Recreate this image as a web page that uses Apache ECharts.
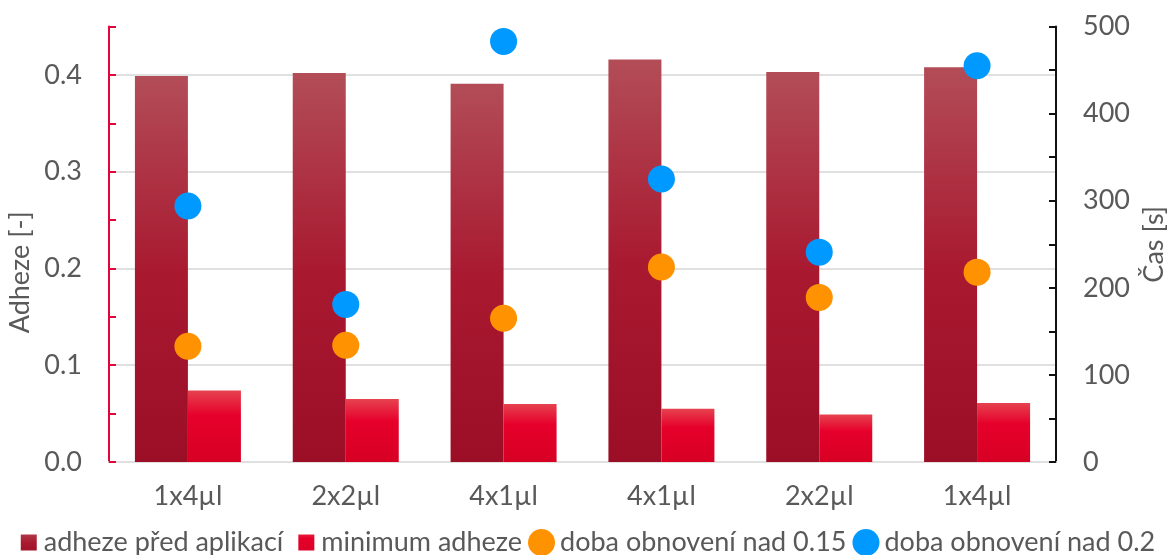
<!DOCTYPE html>
<html>
<head>
<meta charset="utf-8">
<script src="https://cdn.jsdelivr.net/npm/echarts@6/dist/echarts.min.js"></script>
<style>
html,body{margin:0;padding:0;background:#fff;}
#chart{width:1167px;height:555px;}
</style>
</head>
<body>
<div id="chart"></div>
<script>
const categories = ['1x4µl', '2x2µl', '4x1µl', '4x1µl', '2x2µl', '1x4µl'];
const adhezePred = [0.399, 0.402, 0.391, 0.416, 0.403, 0.408];
const minAdheze = [0.074, 0.065, 0.060, 0.055, 0.049, 0.061];
const dobaNad015 = [133, 134, 165, 224, 189, 218];
const dobaNad02 = [294, 181, 483, 325, 241, 455];
const seriesNames = ['adheze před aplikací', 'minimum adheze', 'doba obnovení nad 0.15', 'doba obnovení nad 0.2'];

const FONT = 'Lato';
const TXT = '#595959';
const FS = 27;

const chart = echarts.init(document.getElementById('chart'), null, {renderer: 'canvas'});

const grad1 = new echarts.graphic.LinearGradient(0, 0, 0, 1, [
  {offset: 0, color: '#b24d57'},
  {offset: 0.5, color: '#a91a31'},
  {offset: 1, color: '#9b0e25'}
]);
const grad2 = new echarts.graphic.LinearGradient(0, 0, 0, 1, [
  {offset: 0, color: '#e6424f'},
  {offset: 0.35, color: '#e6002b'},
  {offset: 1, color: '#d70024'}
]);
const squareIcon = 'path://M0,0M27,27M9,5.5h16v16h-16z';

const option = {
  animation: false,
  textStyle: {fontFamily: FONT},
  grid: {left: 109, right: 111, top: 26.6, bottom: 93, containLabel: false, outerBoundsMode: 'none'},
  legend: {
    left: 'center',
    top: 524,
    itemWidth: 27,
    itemHeight: 27,
    itemGap: 6,
    textStyle: {fontFamily: FONT, fontSize: FS, color: TXT},
    data: [
      {name: seriesNames[0], icon: squareIcon},
      {name: seriesNames[1], icon: squareIcon},
      {name: seriesNames[2], icon: 'circle'},
      {name: seriesNames[3], icon: 'circle'}
    ]
  },
  xAxis: {
    type: 'category',
    data: categories,
    axisLine: {show: true, lineStyle: {color: '#e0e0e0', width: 2}},
    axisTick: {show: false},
    axisLabel: {fontFamily: FONT, fontSize: FS, color: TXT, margin: 21, interval: 0}
  },
  yAxis: [
    {
      type: 'value',
      position: 'left',
      min: 0, max: 0.45, interval: 0.05,
      name: 'Adheze [-]',
      nameLocation: 'middle',
      nameRotate: 90,
      nameGap: 65,
      nameTextStyle: {fontFamily: FONT, fontSize: FS, color: TXT, padding: [0, 56, 0, 0]},
      axisLine: {show: true, lineStyle: {color: '#e2053b', width: 2}},
      axisTick: {show: true, inside: true, length: 7, lineStyle: {color: '#e2053b', width: 2}},
      axisLabel: {
        fontFamily: FONT, fontSize: FS, color: TXT, margin: 27,
        formatter: function (v) { return Math.round(v * 100) % 10 === 0 ? v.toFixed(1) : ''; }
      },
      splitLine: {show: false}
    },
    {
      type: 'value',
      position: 'right',
      min: 0, max: 500, interval: 50,
      name: 'Čas [s]',
      nameLocation: 'middle',
      nameRotate: 90,
      nameGap: 74,
      nameTextStyle: {fontFamily: FONT, fontSize: FS, color: TXT},
      axisLine: {show: true, lineStyle: {color: '#111', width: 2}},
      axisTick: {show: true, inside: true, length: 7, lineStyle: {color: '#111', width: 2}},
      axisLabel: {
        fontFamily: FONT, fontSize: FS, color: TXT, margin: 27,
        formatter: function (v) { return Math.round(v) % 100 === 0 ? String(Math.round(v)) : ''; }
      },
      splitLine: {show: false}
    },
    {
      type: 'value',
      position: 'left',
      min: 0, max: 0.45, interval: 0.1,
      axisLine: {show: false},
      axisTick: {show: false},
      axisLabel: {show: false},
      splitLine: {show: true, showMaxLine: false, lineStyle: {color: '#e0e0e0', width: 2}}
    }
  ],
  series: [
    {
      name: seriesNames[0], type: 'bar', yAxisIndex: 0,
      data: adhezePred, barWidth: 53, barGap: '0%',
      itemStyle: {color: grad1}
    },
    {
      name: seriesNames[1], type: 'bar', yAxisIndex: 0,
      data: minAdheze, barWidth: 53, barGap: '0%',
      itemStyle: {color: grad2}
    },
    {
      name: seriesNames[2], type: 'scatter', yAxisIndex: 1,
      data: dobaNad015, symbol: 'circle', symbolSize: 27, z: 5,
      itemStyle: {color: '#ff9200', opacity: 1}
    },
    {
      name: seriesNames[3], type: 'scatter', yAxisIndex: 1,
      data: dobaNad02, symbol: 'circle', symbolSize: 27, z: 5,
      itemStyle: {color: '#0099ff', opacity: 1}
    }
  ]
};
chart.setOption(option);
</script>
</body>
</html>
